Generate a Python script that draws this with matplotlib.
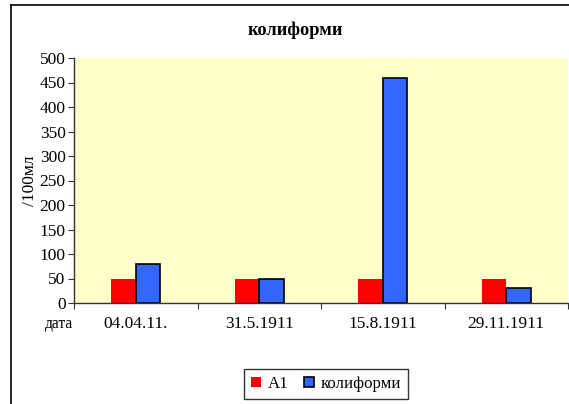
import numpy as np
import matplotlib.pyplot as plt
from matplotlib.lines import Line2D

plt.rcParams['font.family'] = ['Liberation Serif', 'DejaVu Serif']

dates = ["04.04.11.", "31.5.1911", "15.8.1911", "29.11.1911"]
a1 = [50, 50, 50, 50]
koliformi = [80, 48, 460, 30]

fig = plt.figure(figsize=(5.69, 4.04), dpi=100)
ax = fig.add_axes([74/569, 1 - 303/404, 494/569, 245/404])
ax.set_facecolor('#FFFFCC')

x = np.arange(len(dates)) + 0.5
w = 0.2
ax.bar(x - w/2, a1, w, color='#FF0000', linewidth=0, label='A1', zorder=2)
ax.bar(x + w/2, koliformi, w, color='#3366FF', edgecolor='black', linewidth=1.2,
       label='колиформи', zorder=2)

ax.set_xlim(0, 4)
ax.set_ylim(0, 500)
ax.set_yticks(range(0, 501, 50))
ax.set_xticks(range(0, 5))
ax.set_xticklabels([])
ax.set_xticks(x, minor=True)
ax.set_xticklabels(dates, minor=True)
ax.tick_params(axis='x', which='major', direction='out', length=4, color='#333333')
ax.tick_params(axis='x', which='minor', length=0, pad=9, labelsize=12.5)
ax.tick_params(axis='y', direction='out', length=4, pad=2, labelsize=12.5, color='#333333')

for s in ['top', 'right']:
    ax.spines[s].set_visible(False)
for s in ['left', 'bottom']:
    ax.spines[s].set_color('#333333')
    ax.spines[s].set_linewidth(1.0)

ax.set_ylabel('/100мл', fontsize=12.5, labelpad=1)
fig.text(59/569, 1 - 324/404, 'дата', fontsize=11.2, ha='center', va='center')
fig.text(295/569, 1 - 30/404, 'колиформи', fontsize=13.2, fontweight='bold',
         ha='center', va='center')

leg = ax.legend(loc='center', bbox_to_anchor=(326/569, 1 - 384/404),
                bbox_transform=fig.transFigure, ncol=2, frameon=True,
                fancybox=False, edgecolor='black', fontsize=12.2,
                handlelength=0.6, handleheight=0.6, handletextpad=0.4,
                columnspacing=0.9, borderpad=0.4)
leg.get_frame().set_linewidth(1.0)

# outer chart frame
fig.add_artist(Line2D([10.5/569, 1], [1 - 4.5/404, 1 - 4.5/404],
                      transform=fig.transFigure, color='black', linewidth=1.2))
fig.add_artist(Line2D([10.5/569, 10.5/569], [0, 1 - 4.5/404],
                      transform=fig.transFigure, color='black', linewidth=1.2))

fig.savefig('out.png', dpi=100)
